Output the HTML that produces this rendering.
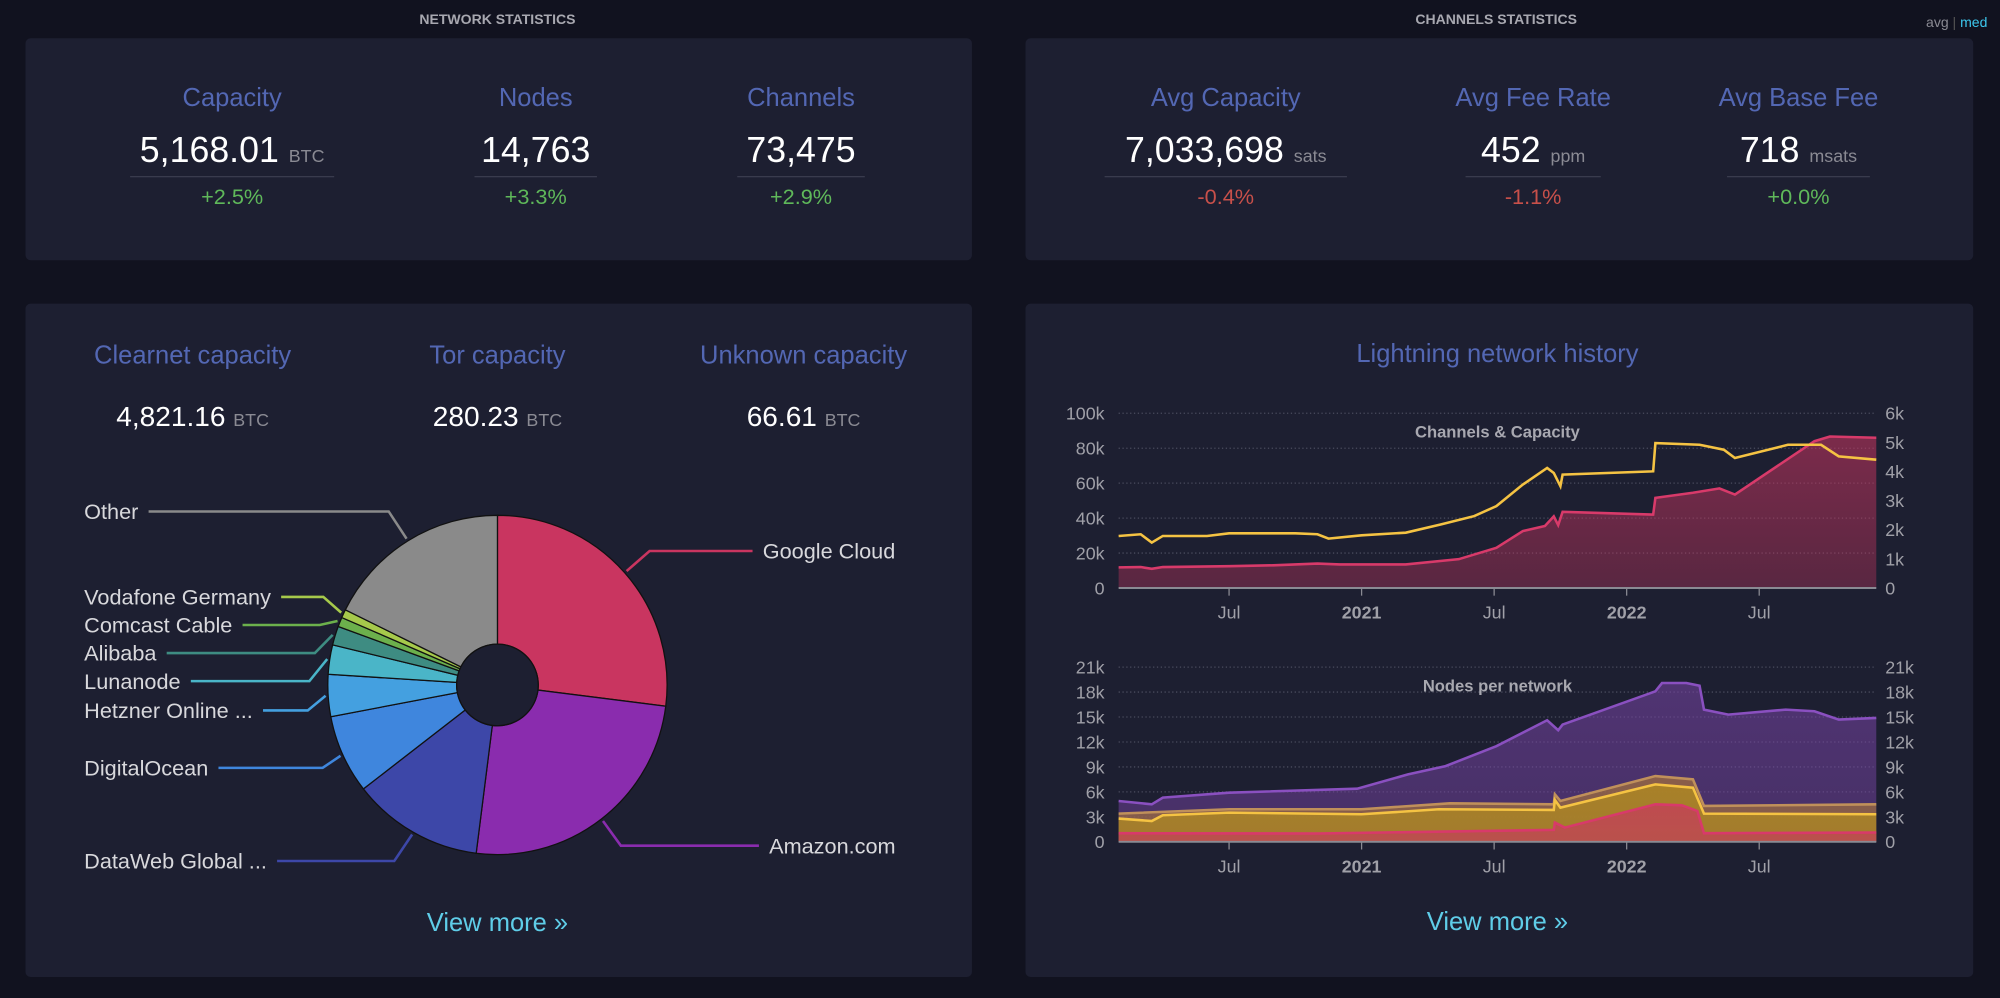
<!DOCTYPE html>
<html><head><meta charset="utf-8">
<style>
html,body{margin:0;padding:0;background:#11121f;width:2000px;height:998px;overflow:hidden;}
#root{position:absolute;left:0;top:0;width:1568px;height:782px;transform:scale(1.27551);transform-origin:0 0;font-family:"Liberation Sans",sans-serif;}
.abs{position:absolute;}
.panel{position:absolute;background:#1d1f31;border-radius:4px;}
.sec{position:absolute;top:10px;font-size:11px;font-weight:bold;color:#a8a8b0;width:300px;text-align:center;}
.stat{position:absolute;text-align:center;width:240px;}
.lbl{font-size:20px;color:#5367b3;height:26px;}
.val{font-size:28px;color:#fff;margin-top:10px;height:32px;}
.val small{font-size:14px;color:#8a8a93;}
.line{height:1px;background:#3a3c4e;margin:4px auto 0;}
.pct{font-size:17px;margin-top:6px;}
.g{color:#5fb85a}.r{color:#c8504a}
.more{position:absolute;font-size:20px;color:#5fcde8;width:300px;text-align:center;}
svg text{font-family:"Liberation Sans",sans-serif;}
</style></head><body>
<div id="root">
<div class="sec" style="left:240px">NETWORK STATISTICS</div>
<div class="sec" style="left:1023px">CHANNELS STATISTICS</div>
<div class="abs" style="left:1510px;top:12px;font-size:11px;color:#8a8a93">avg <span style="color:#555">|</span> <span style="color:#3dc8ee">med</span></div>

<div class="panel" style="left:20px;top:30px;width:742px;height:174px"></div>
<div class="panel" style="left:804px;top:30px;width:743px;height:174px"></div>
<div class="panel" style="left:20px;top:238px;width:742px;height:528px"></div>
<div class="panel" style="left:804px;top:238px;width:743px;height:528px"></div>

<div class="stat" style="left:62px;top:66px"><div class="lbl">Capacity</div><div class="val">5,168.01 <small>BTC</small></div><div class="line" style="width:160px"></div><div class="pct g">+2.5%</div></div>
<div class="stat" style="left:300px;top:66px"><div class="lbl">Nodes</div><div class="val">14,763</div><div class="line" style="width:96px"></div><div class="pct g">+3.3%</div></div>
<div class="stat" style="left:508px;top:66px"><div class="lbl">Channels</div><div class="val">73,475</div><div class="line" style="width:100px"></div><div class="pct g">+2.9%</div></div>

<div class="stat" style="left:841px;top:66px"><div class="lbl">Avg Capacity</div><div class="val">7,033,698 <small>sats</small></div><div class="line" style="width:190px"></div><div class="pct r">-0.4%</div></div>
<div class="stat" style="left:1082px;top:66px"><div class="lbl">Avg Fee Rate</div><div class="val">452 <small>ppm</small></div><div class="line" style="width:106px"></div><div class="pct r">-1.1%</div></div>
<div class="stat" style="left:1290px;top:66px"><div class="lbl">Avg Base Fee</div><div class="val">718 <small>msats</small></div><div class="line" style="width:112px"></div><div class="pct g">+0.0%</div></div>

<div class="stat" style="left:31px;top:268px"><div class="lbl">Clearnet capacity</div><div class="val" style="font-size:22px;margin-top:20px">4,821.16 <small>BTC</small></div></div>
<div class="stat" style="left:270px;top:268px"><div class="lbl">Tor capacity</div><div class="val" style="font-size:22px;margin-top:20px">280.23 <small>BTC</small></div></div>
<div class="stat" style="left:510px;top:268px"><div class="lbl">Unknown capacity</div><div class="val" style="font-size:22px;margin-top:20px">66.61 <small>BTC</small></div></div>

<div class="abs" style="left:904px;top:267px;width:540px;text-align:center;font-size:20px;color:#5367b3">Lightning network history</div>

<svg id="pie" class="abs" style="left:0;top:0" width="780" height="782"></svg>
<svg id="hist" class="abs" style="left:0;top:0" width="1568" height="782"></svg>

<div class="more" style="left:240px;top:713px">View more »</div>
<div class="more" style="left:1024px;top:712px">View more »</div>
</div>

<script>
// ---- Pie data ----
const pieLabels = ["Google Cloud","Amazon.com","DataWeb Global ...","DigitalOcean","Hetzner Online ...","Lunanode","Alibaba","Comcast Cable","Vodafone Germany","Other"];
const pieValues = [27,25,12.5,7.5,4,2.8,1.8,0.9,0.8,17.7];
const pieColors = ["#c93560","#8a2cae","#3d47a8","#3f86dd","#44a0e0","#4ab5c8","#3e8c82","#6cb04c","#a6c94b","#8a8a8a"];
// label layout (positions, not data)
const labelY = [432,663,675,602,557,534,512,490,468,401];
const labelX = [598,603,66,66,66,66,66,66,66,66];

// ---- History chart 1 data (t = months since Jan 2020) ----
const chanT = [1,2,2.5,3,6,8,10,11,12,14,16.4,18.1,19.3,20.3,20.7,20.9,21.1,25.2,25.3,27,28.2,28.9,32.5,33.2,35.3];
const chanV = [11800,12000,11000,12000,12500,13000,14000,13500,13500,13500,16500,23000,32600,35500,41000,36000,43600,42000,51600,54500,57000,53500,84000,86700,86000];
const capT = [1,2,2.5,3,5,6,9,10,10.5,12,14,15.6,17.1,18.1,19.3,20.4,20.7,21,21.1,25.2,25.3,27.3,28.4,28.9,31.3,32.8,33.6,35.3];
const capV = [1787,1845,1560,1787,1787,1878,1878,1845,1696,1810,1900,2186,2470,2812,3552,4121,3950,3495,3894,4007,4975,4918,4748,4463,4918,4918,4520,4406];
// ---- History chart 2 data (stack tops) ----
const torT = [1,10,20.7,20.75,21.2,25.3,26.5,27.2,27.5,35.3];
const torV = [1040,1000,1437,2316,1717,4511,4391,3713,1038,1118];
const clearT = [1,2.5,3,6,12,15.5,20.7,20.75,21,25.3,27,27.5,35.3];
const clearV = [2795,2500,3194,3513,3314,3912,3833,5030,4112,6907,6508,3394,3314];
const bothT = [1,6,12,16,20.7,20.75,21,25.3,27,27.5,35.3];
const bothV = [3394,3912,3912,4631,4511,5709,4911,7905,7506,4312,4511];
const totalT = [1,2.5,3,6,11.8,14.1,15.8,18.1,20.4,20.9,21.1,25.3,25.6,26.7,27.3,27.5,28.6,31.2,32.5,33.6,35.3];
const totalV = [4911,4511,5310,5908,6388,8104,9102,11498,14612,13414,14093,18086,19084,19084,18765,15890,15290,15890,15690,14692,14892];
const xTickT = [6,12,18,24,30];
const xTickLabels = ["Jul","2021","Jul","2022","Jul"];
const y1Ticks = [0,20000,40000,60000,80000,100000];
const y1Labels = ["0","20k","40k","60k","80k","100k"];
const y1rTicks = [0,1000,2000,3000,4000,5000,6000];
const y1rLabels = ["0","1k","2k","3k","4k","5k","6k"];
const y2Ticks = [0,3000,6000,9000,12000,15000,18000,21000];
const y2Labels = ["0","3k","6k","9k","12k","15k","18k","21k"];

const NS="http://www.w3.org/2000/svg";
function mk(parent,tag,attrs){const e=document.createElementNS(NS,tag);for(const k in attrs)e.setAttribute(k,attrs[k]);parent.appendChild(e);return e;}

// ---- Pie ----
const pie=document.getElementById('pie');
const cx=390,cy=537,R=133,r0=32;
const total=pieValues.reduce((a,b)=>a+b,0);
let acc=0;
pieValues.forEach((v,i)=>{
  const a0=acc/total*2*Math.PI, a1=(acc+v)/total*2*Math.PI; acc+=v;
  const p=(a,rr)=>[cx+rr*Math.sin(a),cy-rr*Math.cos(a)];
  const [x0,y0]=p(a0,R),[x1,y1]=p(a1,R),[ix1,iy1]=p(a1,r0),[ix0,iy0]=p(a0,r0);
  const large=(a1-a0)>Math.PI?1:0;
  const path=mk(pie,'path',{d:`M${x0},${y0}A${R},${R} 0 ${large} 1 ${x1},${y1}L${ix1},${iy1}A${r0},${r0} 0 ${large} 0 ${ix0},${iy0}Z`,fill:pieColors[i],stroke:'#111',"stroke-width":1});
  
  
  const t=mk(pie,'text',{x:labelX[i],y:labelY[i]+6,fill:'#d8d8dc',"font-size":17});
  t.textContent=pieLabels[i];
  
  
  const am=(a0+a1)/2;const [ax,ay]=p(am,R+2);
  const ly=labelY[i], right=labelX[i]>cx;
  const ex= right? ax+ (ly<ay?18:14) : ax-14;
  let tw;
  if(right) tw=labelX[i]-8; else { let w=pieLabels[i].length*8.6; try{w=t.getComputedTextLength();}catch(e){} tw=labelX[i]+w+8; }
  const ln=mk(pie,'polyline',{points:`${ax},${ay} ${ex},${ly} ${tw},${ly}`,fill:'none',stroke:pieColors[i],"stroke-width":2});
  
  
});
const hole=mk(pie,'circle',{cx:cx,cy:cy,r:r0,fill:'#1d1f31',stroke:'#111'});



// ---- History ----
const H=document.getElementById('hist');
const X0=877,X1=1471,T0=1,T1=35.3;
const xs=t=>X0+(t-T0)/(T1-T0)*(X1-X0);
function axisY(top,bot,max){return v=>bot-(v/max)*(bot-top);}
const y1=axisY(324,461,100000), y1r=axisY(324,461,6000), y2=axisY(523,660,21000);
const defs=mk(H,'defs',{});
function grad(id,c,o1,o2){const g=mk(defs,'linearGradient',{id:id,x1:0,y1:0,x2:0,y2:1});mk(g,'stop',{offset:0,"stop-color":c,"stop-opacity":o1});mk(g,'stop',{offset:1,"stop-color":c,"stop-opacity":o2});}
grad('gc','#c93560',0.55,0.35);grad('gp','#7a45a8',0.55,0.45);grad('gy','#b08a20',0.8,0.7);grad('gt','#9a6a40',0.8,0.7);grad('gr','#c93560',0.7,0.6);

function grid(ticks,labels,rticks,rlabels,yl,yr,bot,name){
  ticks.forEach((v,i)=>{
    if(v>0){const l=mk(H,'line',{x1:X0,x2:X1,y1:yl(v),y2:yl(v),stroke:'#4a4c5e',"stroke-dasharray":"1,2"});}
    const t=mk(H,'text',{x:866,y:yl(v)+5,fill:'#a0a0a8',"font-size":14,"text-anchor":"end"});t.textContent=labels[i];
    
  });
  rticks.forEach((v,i)=>{const t=mk(H,'text',{x:1478,y:yr(v)+5,fill:'#a0a0a8',"font-size":14});t.textContent=rlabels[i];
    });
  xTickT.forEach((tt,i)=>{const x=xs(tt);mk(H,'line',{x1:x,x2:x,y1:bot,y2:bot+6,stroke:'#8a8a93'});
    const t=mk(H,'text',{x:x,y:bot+24,fill:'#a0a0a8',"font-size":14,"text-anchor":"middle","font-weight":i%2?"bold":"normal"});t.textContent=xTickLabels[i];
    });
}
function pts(T,V,y){return T.map((t,i)=>xs(t)+','+y(V[i])).join(' ');}
function area(T,V,y,fill,stroke,name,bot){
  const a=mk(H,'polygon',{points:xs(T[0])+','+bot+' '+pts(T,V,y)+' '+xs(T[T.length-1])+','+bot,fill:fill});
  
  const l=mk(H,'polyline',{points:pts(T,V,y),fill:'none',stroke:stroke,"stroke-width":2});
  
}
grid(y1Ticks,y1Labels,y1rTicks,y1rLabels,y1,y1r,461,'chart1');
area(chanT,chanV,y1,'url(#gc)','#d83a6a','channels',461);
const cl=mk(H,'polyline',{points:pts(capT,capV,y1r),fill:'none',stroke:'#f5c343',"stroke-width":2});

mk(H,'line',{x1:X0,x2:X1,y1:461,y2:461,stroke:'#8a8a93',"stroke-width":1.5});
let t1=mk(H,'text',{x:1174,y:343,fill:'#a8a8b0',"font-size":13,"font-weight":"bold","text-anchor":"middle"});t1.textContent='Channels & Capacity';


grid(y2Ticks,y2Labels,y2Ticks,y2Labels,y2,y2,660,'chart2');
area(totalT,totalV,y2,'url(#gp)','#8a50c0','total-nodes',660);
area(bothT,bothV,y2,'url(#gt)','#c0905a','clearnet-tor-nodes',660);
area(clearT,clearV,y2,'url(#gy)','#f5c343','clearnet-nodes',660);
area(torT,torV,y2,'url(#gr)','#d83a6a','tor-nodes',660);
mk(H,'line',{x1:X0,x2:X1,y1:660,y2:660,stroke:'#8a8a93',"stroke-width":1.5});
let t2=mk(H,'text',{x:1174,y:542,fill:'#a8a8b0',"font-size":13,"font-weight":"bold","text-anchor":"middle"});t2.textContent='Nodes per network';

</script>
</body></html>
